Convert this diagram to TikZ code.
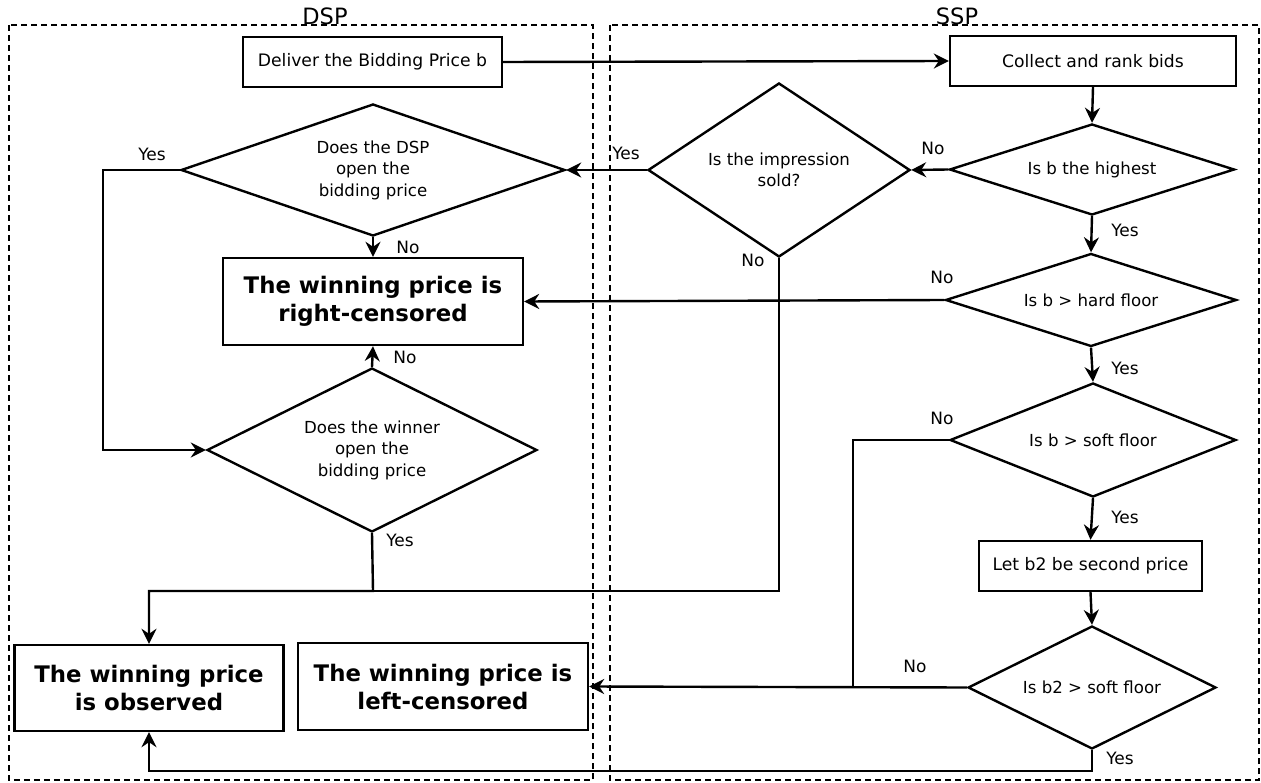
\documentclass[tikz,border=0pt]{standalone}
\usepackage{fontspec}
\setmainfont{DejaVu Sans}
\usetikzlibrary{shapes.geometric,arrows.meta}
\begin{document}
\begin{tikzpicture}[x=1pt,y=-1pt,
 line width=2.4pt,
 arr/.style={-{Stealth[length=15pt,width=15pt,inset=5pt]}},
 pbox/.style={draw, rectangle, inner sep=0pt, align=center, font=\fontsize{17.2}{22}\selectfont},
 rbox/.style={draw, rectangle, inner sep=0pt, align=center, font=\fontsize{22.8}{28}\selectfont\bfseries},
 dec/.style={draw, diamond, inner sep=0pt, align=center, font=\fontsize{16.6}{21.5}\selectfont},
 lab/.style={font=\fontsize{17}{20}\selectfont, inner sep=0pt},
 ttl/.style={font=\fontsize{22.5}{26}\selectfont, inner sep=0pt, anchor=base},
 zone/.style={draw, dash pattern=on 6pt off 4pt, line width=2.2pt},
]
\useasboundingbox (0,0) rectangle (1261,783);
% zones
\draw[zone] (9,25) rectangle (593,780);
\draw[zone] (610,25) rectangle (1259,780);
\node[ttl] (tdsp) at (325,25) {DSP};
\node[ttl] (tssp) at (957,25) {SSP};
% boxes
\node[pbox, minimum width=259pt, minimum height=50pt] (deliver) at (372.5,62) {Deliver the Bidding Price b};
\node[pbox, minimum width=286pt, minimum height=50pt] (collect) at (1093,61) {Collect and rank bids};
\node[rbox, minimum width=300pt, minimum height=87pt] (rc) at (373,301.5) {The winning price is\\right-censored};
\node[rbox, minimum width=269pt, minimum height=86pt] (obs) at (149,688) {The winning price\\is observed};
\node[rbox, minimum width=290pt, minimum height=87pt] (lc) at (443,686.5) {The winning price is\\left-censored};
\node[pbox, minimum width=223pt, minimum height=50pt] (b2box) at (1090.5,566) {Let b2 be second price};
% decisions
\node[dec, minimum width=384pt, minimum height=132pt, shape aspect=2.9] (dspd) at (373,170) {Does the DSP\\open the\\bidding price};
\node[dec, minimum width=262pt, minimum height=174pt, shape aspect=1.5] (imp) at (779,170) {Is the impression\\sold?};
\node[dec, minimum width=285pt, minimum height=91pt, shape aspect=3.1] (high) at (1092,169.5) {Is b the highest};
\node[dec, minimum width=291pt, minimum height=93pt, shape aspect=3.1] (hard) at (1091,300) {Is b > hard floor};
\node[dec, minimum width=286pt, minimum height=114pt, shape aspect=2.5] (soft) at (1093,440) {Is b > soft floor};
\node[dec, minimum width=330pt, minimum height=164pt, shape aspect=2] (win) at (372,450) {Does the winner\\open the\\bidding price};
\node[dec, minimum width=248pt, minimum height=123pt, shape aspect=2] (b2d) at (1092,687.5) {Is b2 > soft floor};
% helper coordinates
\coordinate (yl) at (103,170);
\coordinate (merge) at (373,591);
\coordinate (softj) at (853,687.5);
\coordinate (bot) at (1092,771);
% connectors
\draw[arr] (deliver.east) -- (collect.west);
\draw[arr] (collect.south) -- (high.north);
\draw[arr] (high.west) -- (imp.east);
\draw[arr] (imp.west) -- (dspd.east);
\draw[arr] (dspd.south) -- (rc.north);
\draw[arr] (high.south) -- (hard.north);
\draw[arr] (hard.west) -- (rc.east);
\draw[arr] (hard.south) -- (soft.north);
\draw[arr] (soft.south) -- (b2box.north);
\draw[arr] (b2box.south) -- (b2d.north);
\draw[arr] (win.north) -- (rc.south);
\draw[arr] (dspd.west) -- (yl) |- (win.west);
\draw[arr] (win.south) -- (merge) -| (obs.north);
\draw (imp.south) |- (merge);
\draw (soft.west) -| (softj);
\draw[arr] (b2d.west) -- (lc.east);
\draw[arr] (b2d.south) -- (bot) -| (obs.south);
% labels
\node[lab] (l1) at (152,154) {Yes};
\node[lab] (l2) at (933,148) {No};
\node[lab] (l3) at (626,153) {Yes};
\node[lab] (l4) at (408,247) {No};
\node[lab] (l5) at (1125,230) {Yes};
\node[lab] (l6) at (942,277) {No};
\node[lab] (l7) at (753,260) {No};
\node[lab] (l8) at (405,357) {No};
\node[lab] (l9) at (400,540) {Yes};
\node[lab] (l10) at (1125,368) {Yes};
\node[lab] (l11) at (942,418) {No};
\node[lab] (l12) at (1125,517) {Yes};
\node[lab] (l13) at (915,666) {No};
\node[lab] (l14) at (1120,758) {Yes};
\end{tikzpicture}
\end{document}
